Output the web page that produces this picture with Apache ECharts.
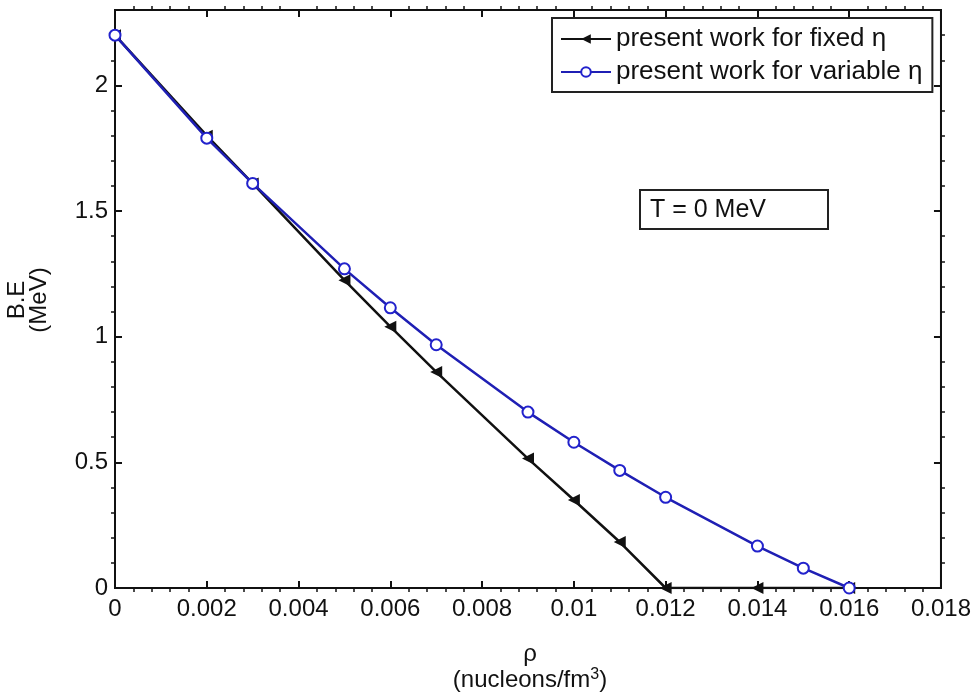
<!DOCTYPE html>
<html>
<head>
<meta charset="utf-8">
<script src="https://cdn.jsdelivr.net/npm/echarts@6/dist/echarts.min.js"></script>
<style>
  html, body { margin: 0; padding: 0; background: #fff; }
  #chart { width: 974px; height: 696px; }
</style>
</head>
<body>
<div id="chart"></div>
<script>
// density (nucleons/fm^3) and binding energy (MeV)
var rhoFixed = [0, 0.002, 0.003, 0.005, 0.006, 0.007, 0.009, 0.010, 0.011, 0.012, 0.014, 0.016]
var beFixed = [2.2, 1.80, 1.61, 1.225, 1.04, 0.86, 0.515, 0.35, 0.183, 0, 0, 0]
var rhoVar = [0, 0.002, 0.003, 0.005, 0.006, 0.007, 0.009, 0.010, 0.011, 0.012, 0.014, 0.015, 0.016]
var beVar = [2.2, 1.79, 1.61, 1.27, 1.115, 0.968, 0.70, 0.58, 0.468, 0.361, 0.167, 0.079, 0]
var legendNames = ['present work for fixed η', 'present work for variable η']

var FONT = '"Liberation Sans", Arial, sans-serif'

function pairs (xs, ys) {
  return xs.map(function (x, i) { return [x, ys[i]] })
}

var myChart = echarts.init(document.getElementById('chart'))

function axisCommon (show) {
  return {
    show: true,
    axisLine: { show: true, onZero: false, lineStyle: { color: '#111', width: 2 } },
    axisTick: { show: true, inside: true, length: 7, lineStyle: { color: '#111', width: 2 } },
    minorTick: { show: true, splitNumber: 5, length: -4, lineStyle: { color: '#111', width: 1.5 } },
    splitLine: { show: false },
    axisLabel: { show: show, color: '#111', fontSize: 24, fontFamily: FONT }
  }
}

var xMain = Object.assign({ type: 'value', position: 'bottom', min: 0, max: 0.018, interval: 0.002 }, axisCommon(true))
xMain.axisLabel.margin = 9
xMain.axisLabel.formatter = function (v) { return String(+v.toFixed(3)) }
var xTop = Object.assign({ type: 'value', position: 'top', min: 0, max: 0.018, interval: 0.002 }, axisCommon(false))
var yMain = Object.assign({ type: 'value', position: 'left', min: 0, max: 2.3, interval: 0.5 }, axisCommon(true))
yMain.axisLabel.margin = 7
yMain.axisLabel.showMaxLabel = false
var yRight = Object.assign({ type: 'value', position: 'right', min: 0, max: 2.3, interval: 0.5 }, axisCommon(false))

var option = {
  animation: false,
  grid: { left: 115, right: 32, top: 10, bottom: 108, show: true, borderColor: '#111', borderWidth: 2, backgroundColor: 'transparent' },
  xAxis: [xMain, xTop],
  yAxis: [yMain, yRight],
  legend: {
    data: legendNames,
    orient: 'vertical',
    left: 552,
    top: 18,
    backgroundColor: '#fff',
    borderColor: '#222',
    borderWidth: 2,
    borderRadius: 0,
    padding: [8, 10, 7, 8],
    itemWidth: 50,
    itemHeight: 12,
    itemGap: 7,
    textStyle: { fontSize: 26, fontFamily: FONT, color: '#111' }
  },
  graphic: [
    {
      type: 'rect',
      shape: { x: 640, y: 190, width: 188, height: 39 },
      style: { fill: '#fff', stroke: '#222', lineWidth: 2 }
    },
    {
      type: 'text',
      x: 650,
      y: 210,
      style: { text: 'T = 0 MeV', fontSize: 25, fontFamily: FONT, fill: '#111', verticalAlign: 'middle' }
    },
    {
      type: 'text',
      x: 530,
      y: 641,
      style: {
        text: '{a|ρ}\n{a|(nucleons/fm}{s|3}{a|)}',
        align: 'center',
        fontFamily: FONT,
        fill: '#111',
        rich: {
          a: { fontSize: 24, fontFamily: FONT, lineHeight: 26 },
          s: { fontSize: 16, fontFamily: FONT, lineHeight: 26, verticalAlign: 'top', padding: [0, 0, 10, 0] }
        }
      }
    },
    {
      type: 'text',
      x: 28,
      y: 300,
      rotation: Math.PI / 2,
      style: {
        text: 'B.E\n(MeV)',
        align: 'center',
        verticalAlign: 'middle',
        fontSize: 24,
        lineHeight: 22,
        fontFamily: FONT,
        fill: '#111'
      }
    }
  ],
  series: [
    {
      name: legendNames[0],
      type: 'line',
      data: pairs(rhoFixed, beFixed),
      symbol: 'triangle',
      symbolRotate: 90,
      symbolSize: 12,
      lineStyle: { color: '#111', width: 2.5 },
      itemStyle: { color: '#111' },
      z: 3
    },
    {
      name: legendNames[1],
      type: 'line',
      data: pairs(rhoVar, beVar),
      symbol: 'emptyCircle',
      symbolSize: 11,
      lineStyle: { color: '#1f1fb4', width: 2.5 },
      itemStyle: { color: '#2222cc', borderWidth: 2 },
      z: 4
    },
    // binds the mirrored top/right axes so that they are drawn
    {
      type: 'line',
      xAxisIndex: 1,
      yAxisIndex: 1,
      data: [],
      silent: true
    }
  ]
}
myChart.setOption(option)
</script>
</body>
</html>
